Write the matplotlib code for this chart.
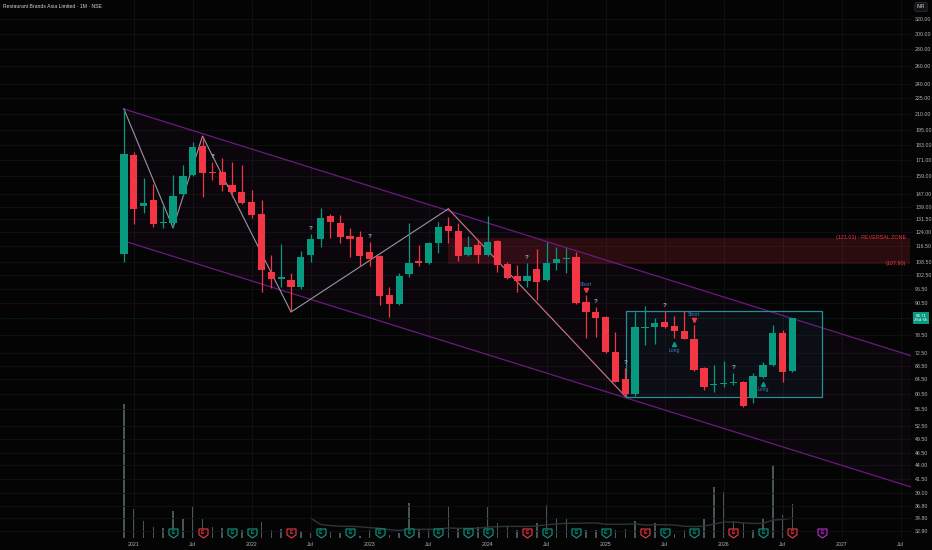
import numpy as np
import pandas as pd
import matplotlib
matplotlib.use('Agg')
import matplotlib.pyplot as plt
import matplotlib.transforms as mtransforms
from matplotlib.path import Path
from matplotlib.patches import Rectangle

plt.rcParams['font.family'] = ['Liberation Sans', 'DejaVu Sans']

TITLE = 'Restaurant Brands Asia Limited · 1M · NSE'
START_MONTH = '2020-12-01'

# monthly candles, Dec 2020 .. Aug 2026
open_ = [112.6, 175.0, 139.4, 143.2, 129.3, 129.3, 147.0, 160.0, 182.0, 162.4,
         162.1, 153.0, 148.3, 141.9, 134.5, 104.0, 100.8, 100.4, 97.3, 112.2,
         120.4, 133.4, 129.3, 122.0, 121.5, 113.7, 111.7, 93.8, 90.2, 103.1,
         109.0, 108.2, 118.3, 127.6, 124.8, 112.2, 117.3, 112.2, 119.4, 107.8,
         102.1, 99.9, 105.4, 100.4, 108.2, 110.2, 111.2, 91.0, 87.0, 85.2,
         72.9, 64.7, 60.3, 81.1, 81.4, 83.3, 81.8, 80.0, 77.2, 67.9,
         62.9, 63.2, 63.5, 63.8, 59.5, 65.3, 68.8, 79.3, 67.0]
high = [214.5, 177.5, 157.9, 153.6, 139.4, 160.0, 167.2, 185.2, 190.2, 169.5,
        172.6, 169.5, 167.2, 149.6, 143.2, 112.2, 117.8, 103.5, 114.2, 123.1,
        138.2, 134.5, 133.9, 126.5, 124.8, 118.8, 112.2, 97.3, 103.5, 129.3,
        117.3, 118.8, 129.9, 132.8, 129.3, 122.0, 119.9, 133.4, 119.9, 108.7,
        107.3, 108.2, 115.2, 118.8, 116.2, 115.7, 113.7, 93.8, 89.0, 85.5,
        79.6, 67.9, 87.0, 89.4, 84.8, 87.4, 85.6, 87.4, 82.1, 68.0,
        68.8, 70.1, 66.4, 64.1, 66.4, 69.8, 82.1, 80.2, 84.9]
low = [108.7, 128.7, 135.2, 127.0, 126.5, 126.5, 146.0, 159.5, 145.1, 156.5,
       149.0, 145.1, 140.6, 132.2, 95.1, 96.8, 97.3, 87.5, 96.5, 108.7,
       116.2, 120.9, 118.3, 111.2, 106.8, 106.8, 89.8, 85.2, 89.8, 101.7,
       106.8, 107.8, 113.2, 118.3, 109.2, 111.5, 108.2, 111.5, 104.0, 100.8,
       95.1, 97.3, 91.8, 99.8, 104.9, 103.5, 90.3, 77.5, 77.9, 72.5,
       63.7, 59.8, 60.0, 75.2, 75.5, 81.0, 77.5, 77.0, 67.0, 61.4,
       61.1, 62.2, 63.0, 57.0, 58.0, 65.0, 68.5, 63.8, 66.7]
close = [175.6, 137.6, 141.2, 128.7, 129.9, 145.7, 159.3, 181.2, 161.4, 161.2,
         153.0, 148.3, 141.2, 133.9, 104.9, 100.8, 101.7, 97.3, 111.2, 120.4,
         132.2, 129.9, 121.5, 120.4, 111.7, 110.2, 93.4, 90.2, 102.1, 108.2,
         108.0, 118.3, 127.0, 124.8, 111.7, 116.2, 112.2, 118.8, 107.3, 101.2,
         99.9, 102.1, 99.5, 108.2, 110.2, 110.7, 90.6, 87.0, 84.8, 72.7,
         63.8, 60.5, 81.4, 81.5, 82.9, 81.4, 80.0, 77.2, 67.3, 62.4,
         63.2, 63.5, 63.8, 57.3, 65.6, 68.8, 79.3, 66.7, 84.71]
volume = [135, 29, 17, 11, 10, 27, 19, 32, 19, 11,
          10, 8, 8, 8, 16, 8, 9, 8, 7, 5,
          10, 6, 5, 8, 2, 8, 8, 3, 5, 35,
          8, 8, 10, 32, 9, 8, 11, 31, 15, 12,
          8, 5, 15, 33, 20, 19, 8, 8, 8, 8,
          8, 9, 17, 8, 15, 8, 4, 8, 8, 19,
          51, 46, 17, 15, 8, 20, 73, 23, 34]

# drawings (bar index, price)
channel_upper = [(0, 214.5), (80, 71.7)]
channel_lower = [(0, 119.3), (80, 40.0)]
zigzag = [(0, 214.5), (5, 126.5), (8, 190.2), (17, 87.0), (33, 137.6)]
down_leg = [(33, 137.6), (51, 59.8)]
reversal_zone = (33, 80, 107.90, 121.01)
range_box = (51.1, 71.0, 59.5, 87.4)
question_bars = [9, 19, 25, 41, 48, 51, 55, 62]
short_bars = [47, 58]
long_bars = [56, 65]
earnings_bars = [5, 8, 11, 13, 17, 20, 23, 26, 29, 32, 35, 37, 41, 43, 46, 49, 53, 55, 58, 62, 65, 68, 71]
earnings_kind = ['g', 'r', 'g', 'g', 'r', 'g', 'g', 'g', 'g', 'g', 'g', 'g', 'r', 'g', 'g', 'g', 'r', 'g', 'g', 'r', 'g', 'r', 'p']
y_ticks = [320, 300, 280, 260, 240, 225, 210, 195, 183, 171, 159, 147, 139, 131.5, 124, 116.5,
           108.5, 102.5, 96.5, 90.5, 78.5, 72.5, 68.5, 64.5, 60.5, 56.5, 52.5, 49.5, 46.5,
           44, 41.5, 39, 36.8, 34.8, 32.9]

BG = '#040404'
UP = '#089981'
DOWN = '#f23645'
TXT = '#b2b5be'
GRID = '#121212'

o = np.array(open_)
h = np.array(high)
l = np.array(low)
c = np.array(close)
idx = np.arange(len(c))

fig = plt.figure(figsize=(9.32, 5.5), dpi=100, facecolor=BG)
vol_ax = fig.add_axes([0, 12 / 550, 911 / 932, 538 / 550])
ax = fig.add_axes([0, 12 / 550, 911 / 932, 538 / 550], sharex=vol_ax)
vol_ax.set_facecolor(BG)
ax.patch.set_visible(False)

# volume
vol_ax.bar(idx, volume, width=0.15, color='#46555a', zorder=1)
vol_ma = pd.Series(volume).rolling(20).mean()
vol_ax.plot(idx, vol_ma, color='#2c3538', lw=1, zorder=2)
vol_ax.set_ylim(0, max(volume) * 4)
vol_ax.set_yticks([])

# price axis
ax.set_yscale('log')
ax.set_ylim(31.86, 348.2)
ax.set_xlim(-12.6, 80.06)

# grid
all_months = pd.date_range(START_MONTH, periods=81, freq='MS')
tick_pos = [i for i, m in enumerate(all_months) if m.month in (1, 7)]
tick_lab = [str(m.year) if m.month == 1 else 'Jul' for m in all_months if m.month in (1, 7)]
for x in tick_pos:
    vol_ax.axvline(x, color=GRID, lw=0.6, zorder=0)
for y in y_ticks:
    ax.axhline(y, color=GRID, lw=0.6, zorder=0)

# channel
ux, uy = zip(*channel_upper)
lx, ly = zip(*channel_lower)
ax.fill_between(ux, uy, ly, color='#9c27b0', alpha=0.05, lw=0, zorder=1)
ax.plot(ux, uy, color='#6a1b7e', lw=0.9, zorder=2)
ax.plot(lx, ly, color='#6a1b7e', lw=0.9, zorder=2)

# reversal zone
x0, x1, p0, p1 = reversal_zone
ax.add_patch(Rectangle((x0, p0), x1 - x0, p1 - p0, facecolor=DOWN, alpha=0.16, lw=0, zorder=1))
ax.text(x1 - 0.4, p1, f'({p1:.2f}) - REVERSAL ZONE', color=DOWN, fontsize=3.9, ha='right', va='center', zorder=6)
ax.text(x1 - 0.4, p0, f'({p0:.2f})', color=DOWN, fontsize=3.9, ha='right', va='center', zorder=6)

# range box
bx0, bx1, bp0, bp1 = range_box
ax.add_patch(Rectangle((bx0, bp0), bx1 - bx0, bp1 - bp0, facecolor='#1f8fa0', alpha=0.07, lw=0, zorder=1))
ax.add_patch(Rectangle((bx0, bp0), bx1 - bx0, bp1 - bp0, fill=False, edgecolor='#2a8c98', lw=0.9, zorder=2))

# zigzag
zx, zy = zip(*zigzag)
ax.plot(zx, zy, color='#9598a1', lw=0.8, zorder=3)
dx, dy = zip(*down_leg)
ax.plot(dx, dy, color='#9598a1', lw=0.8, zorder=3)
ax.plot(dx, dy, color=DOWN, lw=0.8, ls=(0, (3, 4)), zorder=3)

# candles
colors = np.where(c >= o, UP, DOWN)
body_lo = np.minimum(o, c)
body_h = np.maximum(np.abs(c - o), body_lo * 0.005)
ax.vlines(idx, l, h, colors=colors, lw=0.9, zorder=4)
ax.bar(idx, body_h, bottom=body_lo, width=0.74, color=colors, lw=0, zorder=5)

# last price line
ax.axhline(c[-1], color=UP, lw=0.6, ls=(0, (1, 2)), alpha=0.45, zorder=2)

# labels on bars
for i in question_bars:
    ax.annotate('?', (i, h[i]), xytext=(0, 2), textcoords='offset points',
                ha='center', va='bottom', fontsize=4.5, color=TXT, fontweight='bold', zorder=6)
for i in short_bars:
    ax.plot([i], [h[i]], marker='v', ms=3, color=DOWN,
            transform=ax.transData + mtransforms.ScaledTranslation(0, 3.5 / 72, fig.dpi_scale_trans), zorder=6)
    ax.annotate('Short', (i, h[i]), xytext=(0, 6), textcoords='offset points',
                ha='center', va='bottom', fontsize=3.7, color='#3f7fbf', zorder=6)
for i in long_bars:
    ax.plot([i], [l[i]], marker='^', ms=3, color=UP,
            transform=ax.transData + mtransforms.ScaledTranslation(0, -4.5 / 72, fig.dpi_scale_trans), zorder=6)
    ax.annotate('Long', (i, l[i]), xytext=(0, -7), textcoords='offset points',
                ha='center', va='top', fontsize=3.7, color='#3f7fbf', zorder=6)

# earnings badges
shield = Path([(-1, 1), (1, 1), (1, -0.3), (0, -1), (-1, -0.3), (-1, 1)],
              [Path.MOVETO, Path.LINETO, Path.LINETO, Path.LINETO, Path.LINETO, Path.CLOSEPOLY])
kind_color = {'g': UP, 'r': DOWN, 'p': '#c026d3'}
badge_tr = mtransforms.blended_transform_factory(ax.transData, ax.transAxes)
for i, k in zip(earnings_bars, earnings_kind):
    ax.plot([i], [0.0095], marker=shield, ms=6.5, mfc='#0b0b0b', mec=kind_color[k], mew=0.8,
            transform=badge_tr, clip_on=False, zorder=7)
    ax.text(i, 0.0105, 'E', transform=badge_tr, color=kind_color[k], fontsize=3.4,
            ha='center', va='center', fontweight='bold', zorder=8, clip_on=False)

# axes cosmetics
for a in (ax, vol_ax):
    for s in a.spines.values():
        s.set_visible(False)
ax.yaxis.tick_right()
ax.yaxis.set_minor_locator(matplotlib.ticker.NullLocator())
ax.set_yticks(y_ticks)
ax.set_yticklabels([f'{t:.2f}' for t in y_ticks])
ax.tick_params(axis='y', length=0, pad=3, labelsize=3.8, labelcolor=TXT)
vol_ax.set_xticks(tick_pos)
vol_ax.set_xticklabels(tick_lab)
vol_ax.tick_params(axis='x', length=0, pad=3, labelsize=3.8, labelcolor=TXT)
ax.tick_params(axis='x', length=0, labelbottom=False)

# current price tag
ax.text(1.011, c[-1], f'{c[-1]:.2f}\n26d 6h', transform=mtransforms.blended_transform_factory(ax.transAxes, ax.transData),
        ha='center', va='center', fontsize=3.2, color='white', linespacing=1.1,
        bbox=dict(boxstyle='square,pad=0.35', fc=UP, ec='none'), zorder=9, clip_on=False)

# currency badge
fig.text(921 / 932, 1 - 7 / 550, 'INR', ha='center', va='center', fontsize=3.5, color='#d1d4dc',
         bbox=dict(boxstyle='round,pad=0.4,rounding_size=0.3', fc='#131313', ec='#2a2e39', lw=0.6))

# title
fig.text(3 / 932, 1 - 7 / 550, TITLE, ha='left', va='center', fontsize=3.7, color='#d1d4dc')

fig.savefig('out.png', dpi=100, facecolor=BG)
